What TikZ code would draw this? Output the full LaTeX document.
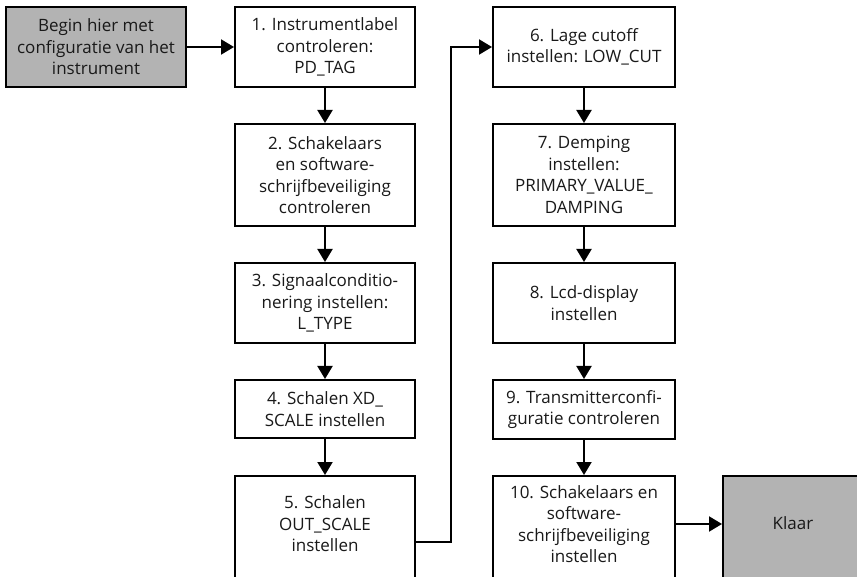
\documentclass[tikz,border=0pt]{standalone}
\usepackage{fontspec}
\setmainfont{Open Sans}
\usetikzlibrary{arrows.meta,calc}
\definecolor{boxgray}{RGB}{179,179,179}
\begin{document}
\begin{tikzpicture}[x=1pt,y=-1pt,
  box/.style={draw=black,line width=2pt,fill=white,minimum width=180pt,align=center,
    inner sep=1pt,font=\fontsize{17}{21.5}\selectfont,text=black!90},
  graybox/.style={box,fill=boxgray},
  conn/.style={line width=2pt,-{Triangle[length=13pt,width=15pt]}}]
\useasboundingbox (0,0) rectangle (857,577);
\clip (0,0) rectangle (857,577);
\fill[white] (0,0) rectangle (857,577);
% left column
\node[graybox,minimum height=80pt] (begin) at (96,47) {Begin hier met\\configuratie van het\\instrument};
\node[box,minimum height=80pt] (b1) at (325,47) {1. Instrumentlabel\\controleren:\\PD\_TAG};
\node[box,minimum height=102pt] (b2) at (325,175) {2. Schakelaars\\en software-\\schrijfbeveiliging\\controleren};
\node[box,minimum height=80pt] (b3) at (325,303) {3. Signaalconditio-\\nering instellen:\\L\_TYPE};
\node[box,minimum height=58pt] (b4) at (325,409) {4. Schalen XD\_\\SCALE instellen};
\node[box,minimum height=106pt,text depth=10pt] (b5) at (325,529) {5. Schalen\\OUT\_SCALE\\instellen};
% right column
\node[box,minimum width=182pt,minimum height=80pt] (b6) at (584,47) {6. Lage cutoff\\instellen: LOW\_CUT};
\node[box,minimum width=182pt,minimum height=102pt] (b7) at (584,175) {7. Demping\\instellen:\\PRIMARY\_VALUE\_\\DAMPING};
\node[box,minimum width=182pt,minimum height=80pt] (b8) at (584,303) {8. Lcd-display\\instellen};
\node[box,minimum width=182pt,minimum height=59pt] (b9) at (584,409.5) {9. Transmitterconfi-\\guratie controleren};
\node[box,minimum width=182pt,minimum height=106pt,text depth=10pt] (b10) at (584,529) {10. Schakelaars en\\software-\\schrijfbeveiliging\\instellen};
\node[graybox,minimum width=140pt,minimum height=106pt,text depth=12pt] (klaar) at (793,529) {Klaar};
% connectors
\draw[conn] (begin) -- (b1);
\draw[conn] (b1) -- (b2);
\draw[conn] (b2) -- (b3);
\draw[conn] (b3) -- (b4);
\draw[conn] (b4) -- (b5);
\coordinate (c5) at ($(b5.east)+(0,13)$);
\coordinate (cup) at (451,47);
\draw[conn] (c5) -| (cup) -- (b6.west);
\draw[conn] (b6) -- (b7);
\draw[conn] (b7) -- (b8);
\draw[conn] (b8) -- (b9);
\draw[conn] (b9) -- (b10);
\coordinate (c10) at ($(b10.east)+(0,-5)$);
\draw[conn] (c10) -- (c10 -| klaar.west);
\end{tikzpicture}
\end{document}
